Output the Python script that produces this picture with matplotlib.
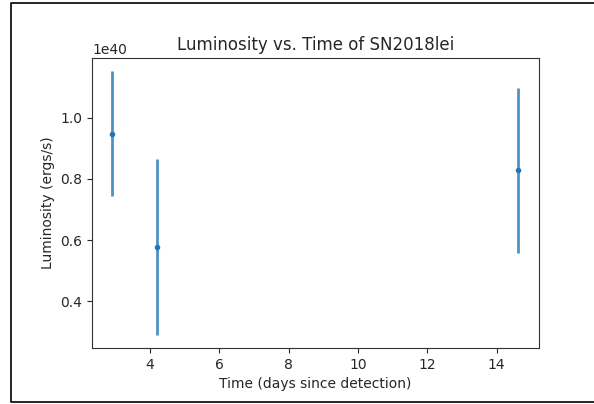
import matplotlib.pyplot as plt
from matplotlib.lines import Line2D

# Data
days = [2.91, 4.21, 14.63]
luminosity = [0.948e40, 0.578e40, 0.828e40]
lum_err = [0.203e40, 0.287e40, 0.269e40]

plt.rcParams['text.color'] = '#262626'
plt.rcParams['axes.labelcolor'] = '#262626'
plt.rcParams['xtick.color'] = '#262626'
plt.rcParams['ytick.color'] = '#262626'
plt.rcParams['axes.edgecolor'] = '#333333'

fig = plt.figure(figsize=(5.94, 4.04), dpi=100)
ax = fig.add_axes([0.155, 0.139, 0.752, 0.717])

ax.errorbar(days, luminosity, yerr=lum_err, fmt='.', elinewidth=2, ecolor=(0.12, 0.47, 0.71, 0.8))
ax.set_title('Luminosity vs. Time of SN2018lei')
ax.set_xlabel('Time (days since detection)')
ax.set_ylabel('Luminosity (ergs/s)')

# frame around the picture: top, left and bottom only (right side runs off the edge)
x0, y0, y1 = 11 / 594, 0.005, 0.993
fig.add_artist(Line2D([1.0, x0, x0, 1.0], [y1, y1, y0, y0], transform=fig.transFigure,
                      color='black', linewidth=1.2))

fig.savefig('out.png', dpi=100)
